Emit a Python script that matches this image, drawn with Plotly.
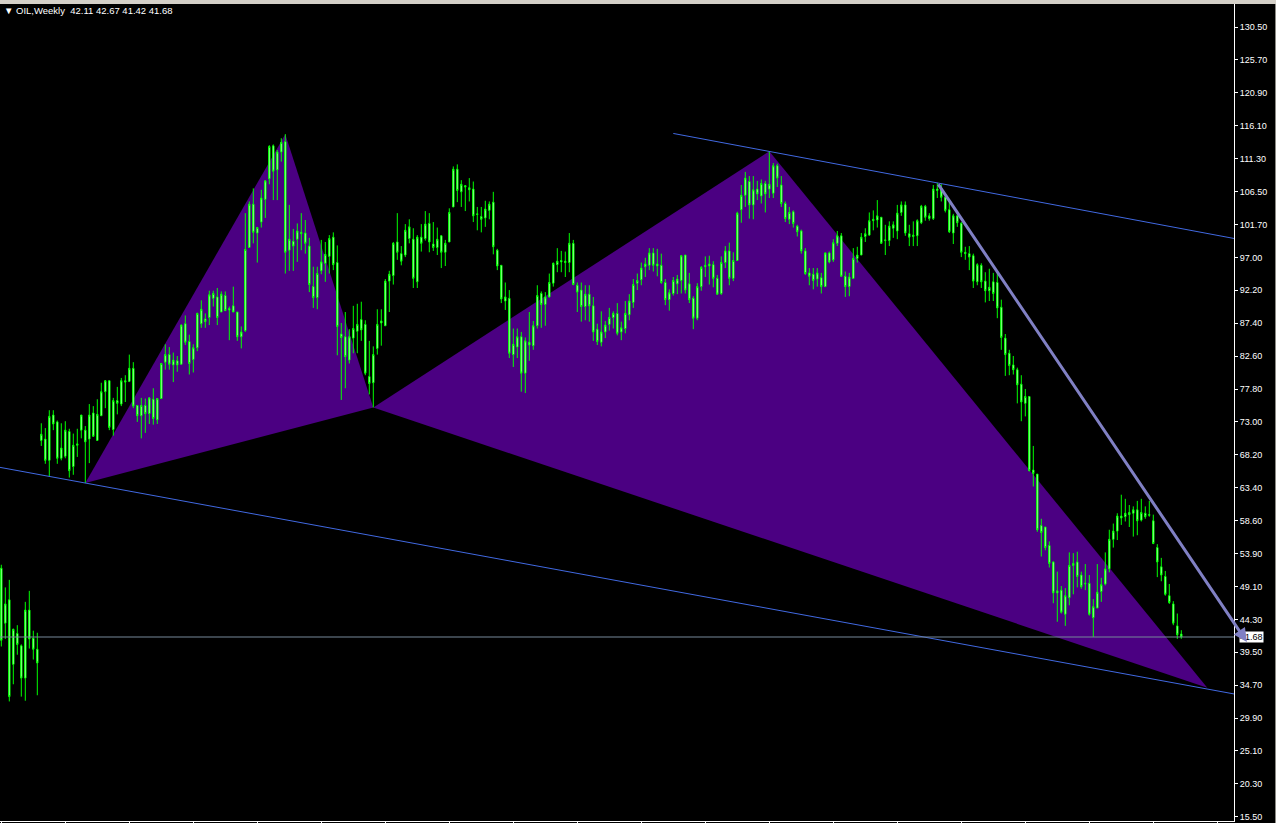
import plotly.graph_objects as go

# ---------------- data (weekly OIL candles, bar index 0..295) ----------------
opens = [
    51.7, 43.7, 47.1, 37.7, 42.2, 40.4, 35.7, 45.6, 41.5, 39.9,
    70.3, 70.5, 67.4, 74.0, 73.0, 67.7, 68.0, 71.6, 66.5, 69.6,
    71.8, 71.8, 70.5, 74.3, 70.3, 73.9, 77.4, 79.0, 71.9, 76.1,
    75.6, 79.0, 78.9, 80.8, 75.4, 73.9, 75.4, 74.2, 76.3, 73.3,
    76.4, 81.7, 82.8, 81.3, 81.9, 81.4, 87.3, 84.7, 82.1, 83.8,
    87.3, 88.0, 88.2, 91.0, 91.2, 89.0, 91.4, 89.3, 89.9, 89.0,
    85.4, 86.3, 98.4, 104.7, 100.5, 102.1, 105.4, 108.4, 113.2, 109.7,
    112.3, 113.8, 98.0, 99.3, 99.6, 100.6, 100.5, 98.6, 92.7, 91.1,
    95.0, 96.1, 97.1, 99.9, 96.2, 85.8, 85.4, 82.0, 85.2, 86.2,
    87.9, 87.2, 79.6, 78.7, 83.7, 87.4, 87.0, 93.5, 94.3, 99.2,
    97.5, 97.3, 99.7, 99.6, 93.4, 99.9, 99.7, 101.9, 98.9, 98.4,
    100.1, 97.7, 99.2, 104.3, 109.8, 106.5, 107.4, 106.8, 106.9, 103.3,
    102.9, 102.7, 103.8, 105.0, 98.0, 95.8, 90.6, 91.0, 82.8, 83.9,
    85.4, 80.1, 84.6, 84.1, 87.0, 91.7, 90.1, 91.2, 93.2, 95.9,
    96.3, 96.4, 96.2, 99.0, 92.9, 92.2, 89.8, 91.6, 89.9, 86.5,
    84.6, 86.1, 87.2, 88.2, 88.8, 86.1, 86.6, 88.6, 90.4, 93.2,
    93.7, 95.6, 95.8, 97.6, 95.7, 95.8, 93.3, 90.8, 91.7, 93.1,
    93.6, 97.3, 93.1, 91.0, 88.1, 92.7, 95.6, 95.7, 95.9, 93.9,
    91.7, 96.2, 97.9, 93.9, 96.5, 103.9, 106.0, 108.0, 104.6, 106.9,
    105.9, 107.7, 106.9, 106.3, 110.3, 107.5, 104.8, 102.5, 103.6, 101.5,
    100.8, 97.9, 94.7, 94.5, 93.8, 94.0, 92.7, 97.6, 96.6, 99.0,
    100.1, 94.2, 92.7, 93.9, 96.8, 97.3, 100.0, 100.2, 102.3, 102.4,
    102.8, 99.4, 99.4, 101.2, 100.8, 103.5, 104.6, 100.4, 100.0, 100.1,
    102.0, 104.4, 102.6, 102.6, 106.9, 107.0, 105.7, 103.9, 100.5, 103.0,
    101.9, 97.7, 97.5, 97.2, 93.4, 95.8, 93.5, 92.1, 93.4, 93.3,
    89.7, 85.2, 83.0, 81.3, 80.6, 78.5, 75.7, 76.7, 66.0, 65.4,
    57.9, 57.7, 55.0, 52.6, 48.1, 48.5, 45.0, 47.4, 52.1, 52.6,
    50.7, 49.4, 49.5, 44.5, 45.9, 48.3, 49.4, 51.6, 55.9, 57.1,
    59.0, 59.2, 59.5, 59.7, 60.2, 58.7, 59.7, 59.4, 58.6, 54.7,
    51.9, 50.5, 47.7, 46.5, 43.3, 42.11,
]
highs = [
    52.2, 48.9, 50.0, 42.9, 43.4, 40.6, 46.8, 48.4, 42.6, 42.3,
    72.8, 72.1, 74.7, 74.7, 73.2, 72.8, 73.1, 72.0, 71.3, 72.0,
    74.0, 72.4, 75.6, 75.3, 76.3, 78.7, 79.1, 79.0, 76.5, 78.1,
    79.4, 79.8, 82.8, 81.7, 75.4, 76.5, 76.4, 76.5, 77.9, 76.4,
    81.6, 84.3, 83.9, 83.1, 82.6, 87.2, 88.5, 85.7, 84.3, 88.9,
    90.7, 88.8, 92.1, 92.1, 92.5, 92.0, 92.0, 89.8, 92.7, 89.0,
    86.9, 103.4, 105.1, 107.0, 101.4, 106.8, 108.2, 113.3, 113.4, 112.6,
    114.3, 114.9, 104.6, 101.1, 101.9, 103.4, 102.4, 99.8, 95.6, 95.6,
    99.5, 99.2, 100.2, 100.6, 98.7, 87.4, 89.0, 86.5, 89.9, 90.2,
    90.5, 87.8, 84.8, 84.0, 89.4, 89.4, 93.8, 95.0, 99.2, 103.4,
    98.6, 101.8, 102.5, 101.2, 100.2, 101.8, 103.7, 103.4, 102.1, 101.3,
    100.2, 99.5, 104.1, 110.2, 110.5, 108.2, 107.5, 108.5, 108.0, 104.3,
    104.3, 105.2, 105.1, 106.5, 98.2, 95.8, 93.3, 92.2, 86.6, 86.6,
    86.1, 85.3, 89.0, 87.7, 92.9, 92.0, 91.9, 94.6, 96.2, 98.3,
    97.9, 97.8, 100.5, 99.5, 93.3, 93.3, 92.9, 92.9, 91.2, 87.3,
    89.1, 87.7, 89.6, 89.1, 90.3, 87.6, 90.6, 91.6, 93.8, 94.6,
    96.2, 96.9, 98.3, 98.3, 98.2, 97.5, 93.8, 92.3, 94.1, 94.4,
    97.3, 97.3, 94.7, 91.3, 93.2, 95.7, 97.1, 97.2, 96.4, 94.4,
    97.1, 98.6, 99.1, 97.7, 103.6, 107.5, 109.4, 108.8, 108.8, 108.1,
    108.3, 108.1, 112.4, 110.7, 110.6, 108.8, 105.1, 104.3, 103.8, 101.7,
    101.0, 98.3, 95.4, 95.4, 95.4, 94.7, 97.7, 97.8, 99.6, 100.8,
    100.5, 94.9, 94.7, 98.3, 98.5, 100.5, 101.2, 103.5, 103.8, 105.3,
    102.8, 101.7, 102.2, 102.2, 104.6, 105.1, 105.1, 101.7, 102.2, 102.5,
    104.6, 104.6, 103.4, 107.5, 107.8, 107.6, 106.2, 105.3, 103.3, 103.3,
    102.1, 98.5, 98.6, 97.5, 96.1, 96.1, 94.8, 95.3, 94.7, 94.9,
    90.8, 85.8, 83.5, 82.6, 80.9, 79.8, 77.8, 76.7, 69.5, 65.4,
    58.9, 57.7, 55.6, 52.7, 51.2, 49.1, 48.8, 54.0, 53.9, 54.1,
    51.2, 52.3, 50.7, 47.2, 52.3, 50.3, 54.0, 57.3, 58.2, 59.7,
    62.4, 61.8, 60.9, 60.7, 61.5, 61.8, 60.7, 61.5, 59.5, 55.2,
    53.2, 51.3, 49.4, 46.9, 45.1, 42.67,
]
lows = [
    40.3, 41.4, 32.3, 34.8, 39.1, 33.0, 32.4, 40.0, 38.4, 33.2,
    69.5, 66.9, 65.0, 71.8, 66.9, 67.4, 67.7, 64.9, 65.3, 67.9,
    70.6, 64.1, 67.0, 70.9, 70.3, 73.9, 75.0, 71.8, 71.0, 74.1,
    75.3, 75.9, 78.8, 75.0, 73.0, 70.6, 71.4, 72.7, 72.6, 72.7,
    76.4, 80.6, 80.6, 78.8, 80.3, 81.4, 84.2, 79.9, 80.2, 83.3,
    86.7, 86.7, 87.1, 89.8, 87.1, 89.0, 89.2, 84.9, 89.0, 84.8,
    83.7, 86.1, 98.4, 99.0, 96.2, 101.3, 102.7, 107.6, 105.3, 105.3,
    110.9, 94.6, 95.0, 95.0, 96.3, 98.0, 97.5, 91.9, 89.6, 89.4,
    94.5, 93.4, 94.6, 95.1, 82.7, 76.2, 77.9, 81.5, 83.0, 83.0,
    84.8, 79.8, 77.0, 75.1, 82.8, 84.1, 87.0, 89.0, 93.0, 96.6,
    95.8, 97.0, 99.0, 92.5, 92.5, 97.8, 99.4, 97.7, 97.9, 97.3,
    95.4, 95.7, 99.2, 104.3, 105.0, 104.3, 103.7, 105.1, 102.1, 100.9,
    100.6, 101.4, 102.5, 97.4, 95.1, 90.3, 89.3, 82.3, 81.0, 82.3,
    77.4, 77.2, 81.9, 83.5, 86.6, 86.7, 87.0, 91.1, 92.7, 94.8,
    94.8, 94.1, 94.8, 92.9, 89.0, 87.6, 87.8, 87.6, 84.8, 84.2,
    84.0, 85.2, 86.3, 86.6, 85.6, 84.9, 85.9, 87.8, 89.6, 92.2,
    92.9, 94.1, 95.1, 94.9, 94.2, 93.1, 90.0, 89.2, 91.4, 91.6,
    91.7, 91.7, 90.3, 86.5, 87.8, 92.1, 94.1, 93.0, 92.6, 91.5,
    91.5, 95.4, 92.9, 93.5, 96.5, 102.0, 104.3, 102.6, 102.5, 105.3,
    104.8, 103.5, 105.6, 105.6, 107.2, 104.3, 102.1, 101.8, 101.3, 100.0,
    97.5, 94.4, 92.9, 92.3, 92.7, 91.7, 92.7, 96.1, 96.3, 98.6,
    94.2, 91.2, 91.3, 93.8, 96.2, 97.3, 99.2, 100.1, 100.9, 101.3,
    98.9, 97.3, 98.6, 99.8, 99.6, 103.0, 100.1, 98.6, 98.6, 98.6,
    101.8, 102.3, 102.3, 102.4, 105.6, 105.1, 103.5, 100.5, 98.9, 101.4,
    97.0, 96.6, 95.1, 92.5, 92.9, 92.5, 90.4, 90.6, 90.6, 88.1,
    83.5, 79.7, 79.8, 79.9, 75.7, 73.1, 73.8, 65.8, 63.6, 57.0,
    53.4, 54.3, 51.8, 46.6, 43.9, 45.1, 43.3, 46.3, 47.9, 48.9,
    48.7, 48.5, 44.8, 41.7, 45.9, 46.8, 49.2, 51.1, 54.7, 55.8,
    58.0, 58.5, 57.7, 56.3, 56.5, 58.5, 58.9, 59.2, 55.2, 50.4,
    49.8, 47.7, 46.5, 43.4, 41.4, 41.42,
]
closes = [
    41.2, 46.5, 33.0, 42.8, 40.6, 35.7, 45.6, 41.4, 39.9, 37.9,
    71.2, 67.4, 73.8, 72.7, 67.7, 69.2, 71.8, 65.9, 69.6, 69.8,
    74.0, 70.1, 74.0, 70.9, 74.1, 77.4, 79.0, 72.2, 76.1, 75.7,
    79.0, 78.8, 80.8, 75.3, 73.9, 75.4, 74.2, 76.5, 73.5, 76.4,
    81.5, 82.8, 81.4, 82.0, 81.3, 87.1, 84.6, 81.5, 83.8, 88.8,
    89.4, 87.6, 91.5, 91.7, 88.2, 91.6, 89.2, 89.5, 89.0, 85.4,
    86.1, 98.1, 104.7, 100.6, 101.3, 105.6, 108.1, 113.1, 109.5, 112.3,
    113.7, 97.7, 99.6, 98.6, 100.8, 100.4, 99.0, 93.0, 91.1, 94.6,
    96.3, 97.4, 99.7, 95.9, 86.9, 85.3, 82.5, 85.4, 86.6, 87.2,
    86.4, 80.1, 78.6, 82.8, 87.2, 87.7, 93.5, 94.5, 99.0, 97.7,
    96.4, 100.9, 101.4, 93.9, 99.9, 99.0, 101.8, 99.2, 98.4, 99.6,
    97.7, 99.0, 103.5, 109.8, 106.7, 107.6, 107.2, 107.1, 103.0, 103.2,
    102.5, 104.0, 104.7, 98.5, 95.7, 90.9, 91.2, 83.0, 84.3, 85.4,
    80.1, 84.8, 84.2, 87.0, 91.4, 90.1, 91.2, 93.3, 96.1, 96.4,
    96.5, 96.2, 99.0, 93.0, 91.9, 89.8, 91.6, 89.9, 86.1, 84.7,
    86.1, 87.1, 88.2, 88.8, 85.9, 86.7, 88.8, 90.6, 93.0, 93.6,
    95.4, 96.0, 97.6, 95.8, 96.0, 93.3, 90.8, 91.8, 93.6, 93.8,
    97.2, 92.2, 90.8, 88.1, 92.7, 95.5, 95.8, 96.0, 93.9, 91.6,
    96.2, 97.9, 93.9, 96.5, 103.4, 106.0, 108.5, 104.6, 106.8, 106.2,
    107.7, 106.2, 107.6, 110.3, 108.5, 104.8, 102.6, 103.5, 101.9, 100.7,
    97.9, 94.6, 94.2, 93.6, 94.7, 92.7, 97.6, 96.3, 99.1, 100.1,
    94.2, 92.7, 94.1, 96.8, 97.3, 99.9, 100.4, 102.3, 102.5, 103.0,
    99.0, 99.5, 101.5, 101.7, 103.4, 104.6, 100.5, 99.9, 100.2, 102.3,
    104.4, 102.8, 103.0, 106.9, 106.7, 105.7, 103.8, 100.7, 103.0, 102.0,
    97.7, 97.5, 97.0, 93.5, 95.9, 93.4, 92.1, 92.6, 91.7, 89.6,
    85.3, 82.8, 81.2, 80.6, 78.4, 75.9, 76.7, 65.9, 65.5, 57.3,
    56.9, 54.7, 52.4, 48.1, 48.4, 45.3, 47.7, 52.1, 52.4, 50.5,
    49.0, 49.5, 45.0, 46.1, 48.2, 49.3, 51.6, 55.9, 57.1, 59.3,
    59.3, 59.7, 59.8, 60.2, 58.6, 59.8, 59.2, 59.5, 55.3, 52.6,
    50.7, 47.9, 46.7, 43.7, 42.0, 41.68,
]
bars = list(range(len(closes)))

# harmonic pattern points X, A, B, C, D (bar index, price)
pattern_bars = [21, 71, 93, 192, 301.5]
pattern_prices = [64.1, 114.9, 75.1, 112.4, 34.3]

# trendline anchors (bar index, price)
lower_channel_bars = [21, 295]
lower_channel_prices = [64.1, 34.8]
upper_channel_bars = [168, 234]
upper_channel_prices = [115.0, 107.8]
arrow_bars = [234, 311.4]
arrow_prices = [107.8, 40.96]

bid_price = 41.68
title_text = "\u25BC OIL,Weekly\u00a0\u00a042.11 42.67 41.42 41.68"

y_ticktext = ["130.50", "125.70", "120.90", "116.10", "111.30", "106.50", "101.70",
              "97.00", "92.20", "87.40", "82.60", "77.80", "73.00", "68.20", "63.40",
              "58.60", "53.90", "49.10", "44.30", "39.50", "34.70", "29.90", "25.10",
              "20.30", "15.50"]

# ---------------- figure ----------------
X_MIN, X_MAX = -0.325, 308.175
Y_MIN, Y_MAX = 14.89, 133.85
top_tick, bot_tick = 130.5, 15.5
n = len(y_ticktext) - 1
y_tickvals = [top_tick - i * (top_tick - bot_tick) / n for i in range(n + 1)]

PURPLE = "#4B0082"
BLUE = "#4169E1"
LIME = "#00FF00"

fig = go.Figure()

fig.add_trace(go.Candlestick(
    x=bars, open=opens, high=highs, low=lows, close=closes,
    increasing=dict(line=dict(color=LIME, width=1), fillcolor="white"),
    decreasing=dict(line=dict(color=LIME, width=1), fillcolor="white"),
    whiskerwidth=0, hoverinfo="skip", showlegend=False))


def line_at(bx, py, x):
    s = (py[1] - py[0]) / (bx[1] - bx[0])
    return py[0] + s * (x - bx[0])


def tri_path(pts):
    return "M " + " L ".join(f"{b},{p}" for b, p in pts) + " Z"


pts = list(zip(pattern_bars, pattern_prices))
X, A, B, C, D = pts

shapes = [
    dict(type="path", xref="x", yref="y", path=tri_path([X, A, B]),
         fillcolor=PURPLE, line=dict(width=0), layer="below"),
    dict(type="path", xref="x", yref="y", path=tri_path([B, C, D]),
         fillcolor=PURPLE, line=dict(width=0), layer="below"),
    dict(type="line", xref="x", yref="y", x0=X_MIN, x1=X_MAX,
         y0=line_at(lower_channel_bars, lower_channel_prices, X_MIN),
         y1=line_at(lower_channel_bars, lower_channel_prices, X_MAX),
         line=dict(color=BLUE, width=1), layer="above"),
    dict(type="line", xref="x", yref="y", x0=upper_channel_bars[0], x1=X_MAX,
         y0=upper_channel_prices[0],
         y1=line_at(upper_channel_bars, upper_channel_prices, X_MAX),
         line=dict(color=BLUE, width=1), layer="above"),
    dict(type="line", xref="paper", yref="y", x0=0, x1=1, y0=bid_price, y1=bid_price,
         line=dict(color="#778899", width=1), layer="above"),
    dict(type="rect", xref="paper", yref="paper", x0=-0.01, x1=1.1, y0=1.0, y1=1.02,
         fillcolor="#d4d0c8", line=dict(width=0), layer="above"),
    dict(type="rect", xref="paper", yref="paper", x0=1.0335, x1=1.1, y0=-0.01, y1=1.02,
         fillcolor="#d4d0c8", line=dict(width=0), layer="above"),
]

annotations = [
    dict(xref="paper", yref="paper", x=0, y=1, xanchor="left", yanchor="top",
         xshift=2, yshift=1, text=title_text, showarrow=False,
         font=dict(color="white", size=9.5, family="Liberation Sans, DejaVu Sans")),
    dict(xref="paper", yref="y", x=1.0142, y=bid_price, xanchor="center", yanchor="middle",
         text="41.68", showarrow=False, bgcolor="white", borderpad=0,
         font=dict(color="black", size=9, family="Liberation Sans")),
    dict(xref="x", yref="y", x=arrow_bars[1], y=arrow_prices[1],
         axref="x", ayref="y", ax=arrow_bars[0], ay=arrow_prices[0],
         showarrow=True, arrowhead=2, arrowsize=0.9, arrowwidth=3,
         arrowcolor="#8080C4", text=""),
]

fig.update_layout(
    width=1276, height=823,
    margin=dict(l=0, r=42, t=4, b=2, pad=0),
    paper_bgcolor="black", plot_bgcolor="black",
    showlegend=False, boxgap=0.5,
    shapes=shapes, annotations=annotations,
    xaxis=dict(range=[X_MIN, X_MAX], showgrid=False, zeroline=False,
               showline=True, linecolor="white", linewidth=1,
               ticks="outside", ticklen=2, tickcolor="white",
               tickvals=list(range(0, 305, 16)), showticklabels=False,
               rangeslider=dict(visible=False), fixedrange=True),
    yaxis=dict(range=[Y_MIN, Y_MAX], side="right", showgrid=False, zeroline=False,
               showline=True, linecolor="white", linewidth=1,
               ticks="outside", ticklen=3, tickcolor="white",
               tickvals=y_tickvals, ticktext=y_ticktext,
               tickfont=dict(color="white", size=9, family="Liberation Sans"),
               fixedrange=True),
)

fig.write_html("out.html", config={"displayModeBar": False},
               post_script="document.body.style.margin='0';document.body.style.background='black';")
